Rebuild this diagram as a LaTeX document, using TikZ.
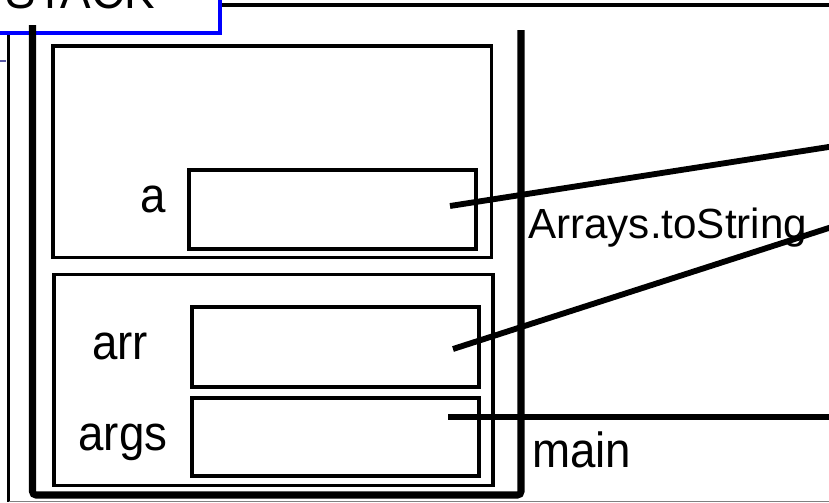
\documentclass[tikz,border=0pt]{standalone}
\usepackage{fontspec}
\setmainfont{Liberation Sans}
\tikzset{
  frame/.style = {line width=2.6pt},
  slot/.style = {draw, line width=3.5pt, anchor=north west, inner sep=0pt},
  ref/.style = {line width=5pt},
  lbl/.style = {inner sep=0pt, font=\fontsize{39}{44}\selectfont},
  mlbl/.style = {inner sep=0pt, font=\fontsize{36}{40}\selectfont},
}
\newcommand{\tallx}[1]{\scalebox{1}[1.08]{#1}}
\begin{document}
\begin{tikzpicture}[x = .03cm, y = -.03cm]
\useasboundingbox (0,0) rectangle (829,503);
\clip (0,0) rectangle (829,503);
% outer border
\draw[line width=4pt] (220,5) -- (835,5);
\draw[line width=3pt] (8.5,20) -- (8.5,501.5);
\draw[gray, line width=1.5pt] (8.5,501.5) -- (835,501.5);
\draw[blue!30!gray, line width=1.5pt] (0,61) -- (6,61);
% tab
\draw[blue, line width=2.6pt, fill=white] (-10,-10) rectangle (220,33);
\node[lbl, anchor=base east] (stk) at (155,9) {\tallx{STACK}};
% the stack
\draw[line width=6pt, rounded corners=3pt] (32.5,25) -- (32.5,495) -- (521,495) -- (521,30);
% frames
\draw[frame] (53,46) rectangle (491.5,257.5);
\draw[frame] (54,274.5) rectangle (493,485.5);
\node[mlbl, anchor=base west] (tostr) at (528,238) {Arrays.toString};
\node[lbl, anchor=base west] (mn) at (532,467) {\tallx{main}};
% variables
\node[slot, minimum width=8.61cm, minimum height=2.37cm] (a) at (187,168) {};
\node[slot, minimum width=8.61cm, minimum height=2.4cm] (arr) at (190,305) {};
\node[slot, minimum width=8.61cm, minimum height=2.34cm] (args) at (190,396) {};
\node[lbl, anchor=base] (la) at (153,212) {\tallx{a}};
\node[lbl, anchor=base] (larr) at (120,359) {\tallx{arr}};
\node[lbl, anchor=base] (largs) at (123,450) {\tallx{args}};
% references
\coordinate (pa) at (450,206);
\coordinate (parr) at (453,349);
\coordinate (pargs) at (448,417);
\coordinate (ha) at (835,146);
\coordinate (harr) at (835,226);
\coordinate (hargs) at (835,417);
\draw[ref] (pa) -- (ha);
\draw[ref] (parr) -- (harr);
\draw[ref] (pargs) -- (hargs);
%\draw[ref, ->] (pargs) -- (hargs);
\end{tikzpicture}
\end{document}
